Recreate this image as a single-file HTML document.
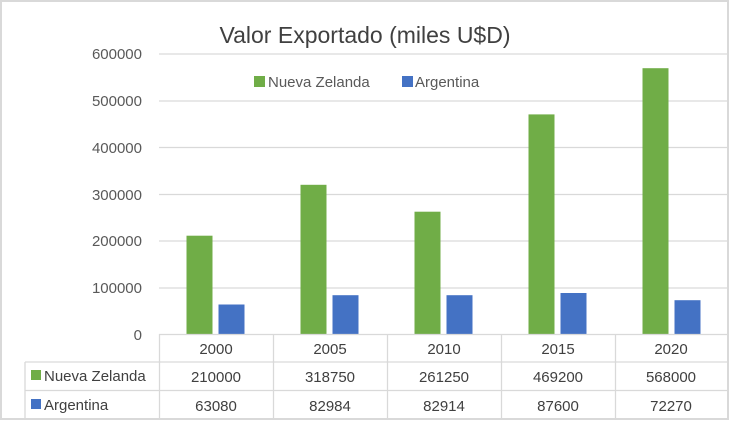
<!DOCTYPE html>
<html><head><meta charset="utf-8"><style>
html,body{margin:0;padding:0;background:#fff}
svg{display:block;font-family:"Liberation Sans",sans-serif}
</style></head><body>
<svg width="730" height="421" viewBox="0 0 730 421" xmlns="http://www.w3.org/2000/svg">
<rect x="0" y="0" width="730" height="421" fill="#fff"/>
<rect x="1" y="1" width="727" height="418" fill="none" stroke="#d9d9d9" stroke-width="2"/>
<text x="365" y="43" text-anchor="middle" font-size="23" fill="#404040">Valor Exportado (miles U$D)</text>
<g stroke="#d9d9d9" stroke-width="1.2">
<line x1="159" x2="727" y1="54" y2="54"/>
<line x1="159" x2="727" y1="101" y2="101"/>
<line x1="159" x2="727" y1="147.5" y2="147.5"/>
<line x1="159" x2="727" y1="194.5" y2="194.5"/>
<line x1="159" x2="727" y1="241" y2="241"/>
<line x1="159" x2="727" y1="288" y2="288"/>
</g>
<g font-size="15" fill="#595959" text-anchor="end">
<text x="142" y="59">600000</text>
<text x="142" y="106">500000</text>
<text x="142" y="153">400000</text>
<text x="142" y="200">300000</text>
<text x="142" y="246">200000</text>
<text x="142" y="293">100000</text>
<text x="142" y="340">0</text>
</g>
<rect x="254" y="76" width="11" height="11" fill="#70ad47"/>
<text x="268" y="87" font-size="15" fill="#595959">Nueva Zelanda</text>
<rect x="402" y="76" width="11" height="11" fill="#4472c4"/>
<text x="415" y="87" font-size="15" fill="#595959">Argentina</text>
<g fill="#70ad47">
<rect x="186.5" y="235.7" width="26" height="98.3"/>
<rect x="300.5" y="184.8" width="26" height="149.2"/>
<rect x="414.5" y="211.7" width="26" height="122.3"/>
<rect x="528.5" y="114.4" width="26" height="219.6"/>
<rect x="642.5" y="68.2" width="26" height="265.8"/>
</g>
<g fill="#4472c4">
<rect x="218.5" y="304.5" width="26" height="29.5"/>
<rect x="332.5" y="295.2" width="26" height="38.8"/>
<rect x="446.5" y="295.2" width="26" height="38.8"/>
<rect x="560.5" y="293" width="26" height="41"/>
<rect x="674.5" y="300.2" width="26" height="33.8"/>
</g>
<g stroke="#d9d9d9" stroke-width="1.3" fill="none">
<line x1="159" x2="727" y1="334.5" y2="334.5"/>
<line x1="25" x2="727" y1="362" y2="362"/>
<line x1="25" x2="727" y1="390.5" y2="390.5"/>
<line x1="25" x2="25" y1="362" y2="419"/>
<line x1="159.5" x2="159.5" y1="334" y2="419"/>
<line x1="273.5" x2="273.5" y1="334" y2="419"/>
<line x1="387.5" x2="387.5" y1="334" y2="419"/>
<line x1="501.5" x2="501.5" y1="334" y2="419"/>
<line x1="615.5" x2="615.5" y1="334" y2="419"/>
</g>
<g font-size="15" fill="#404040" text-anchor="middle">
<text x="216" y="354">2000</text><text x="330" y="354">2005</text><text x="444" y="354">2010</text><text x="558" y="354">2015</text><text x="671" y="354">2020</text>
<text x="216" y="382">210000</text><text x="330" y="382">318750</text><text x="444" y="382">261250</text><text x="558" y="382">469200</text><text x="671" y="382">568000</text>
<text x="216" y="411">63080</text><text x="330" y="411">82984</text><text x="444" y="411">82914</text><text x="558" y="411">87600</text><text x="671" y="411">72270</text>
</g>
<rect x="31" y="370" width="10" height="10" fill="#70ad47"/>
<text x="44" y="381" font-size="15" fill="#404040">Nueva Zelanda</text>
<rect x="31" y="399" width="10" height="10" fill="#4472c4"/>
<text x="44" y="410" font-size="15" fill="#404040">Argentina</text>
</svg>
</body></html>
